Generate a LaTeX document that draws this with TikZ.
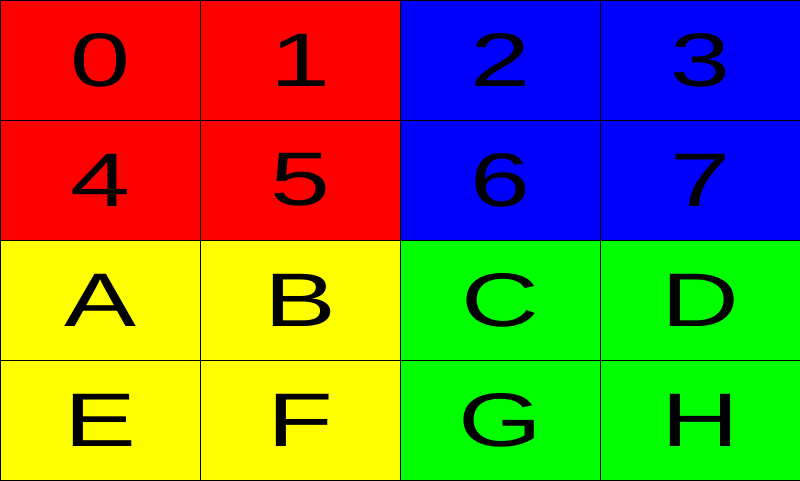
\documentclass[tikz,border=0pt]{standalone}
\usepackage{fontspec}
\setmainfont{Liberation Sans}
\usetikzlibrary{positioning}

\definecolor{cellred}{RGB}{255,0,0}
\definecolor{cellblue}{RGB}{0,0,255}
\definecolor{cellyellow}{RGB}{255,255,0}
\definecolor{cellgreen}{RGB}{0,255,0}

\tikzset{
  cell/.style={draw=black, line width=0.6pt, minimum width=5cm, minimum height=3cm,
    inner sep=0pt, font=\fontsize{54}{54}\selectfont},
}
\newcommand{\wide}[1]{\scalebox{1.42}[1]{#1}}

\begin{document}
\begin{tikzpicture}
  \useasboundingbox (0,0) rectangle (20,12);
  % top half: digits
  \foreach \lab/\col [count=\i from 0] in {0/cellred,1/cellred,2/cellblue,3/cellblue,4/cellred,5/cellred,6/cellblue,7/cellblue} {
    \pgfmathtruncatemacro{\cx}{mod(\i,4)}
    \pgfmathtruncatemacro{\cy}{div(\i,4)}
    \node[cell, fill=\col] (d\lab) at (2.5+5*\cx, 10.5-3*\cy) {\wide{\lab}};
  }
  % bottom half: letters
  \foreach \lab/\col [count=\i from 0] in {A/cellyellow,B/cellyellow,C/cellgreen,D/cellgreen,E/cellyellow,F/cellyellow,G/cellgreen,H/cellgreen} {
    \pgfmathtruncatemacro{\cx}{mod(\i,4)}
    \pgfmathtruncatemacro{\cy}{div(\i,4)}
    \node[cell, fill=\col] (l\lab) at (2.5+5*\cx, 4.5-3*\cy) {\wide{\lab}};
  }
\end{tikzpicture}
\end{document}
